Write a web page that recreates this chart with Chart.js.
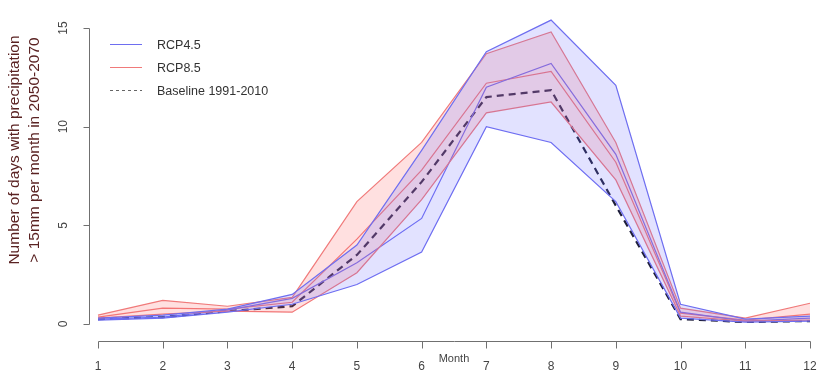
<!DOCTYPE html>
<html><head><meta charset="utf-8">
<script src="https://cdn.jsdelivr.net/npm/chart.js@4/dist/chart.umd.min.js"></script>
<style>html,body{margin:0;padding:0;background:#fff;} #wrap{width:817px;height:374px;}</style>
</head><body><div id="wrap"><canvas id="c" width="817" height="374"></canvas></div>
<script>
const months = [1,2,3,4,5,6,7,8,9,10,11,12];
const yTickValues = [0,5,10,15];
const xTickValues = [1,2,3,4,5,6,7,8,9,10,11,12];
const yTitleLines = ["Number of days with precipitation", "> 15mm per month in 2050-2070"];
const xTitle = "Month";
const legendLabels = ["RCP4.5", "RCP8.5", "Baseline 1991-2010"];

const rcp45Upper = [0.30, 0.45, 0.75, 1.50, 4.00, 8.80, 13.80, 15.40, 12.10, 1.00, 0.25, 0.40];
const rcp45Mid   = [0.25, 0.35, 0.70, 1.30, 3.10, 5.35, 12.00, 13.20, 8.60, 0.60, 0.15, 0.30];
const rcp45Lower = [0.20, 0.30, 0.60, 1.00, 2.00, 3.65, 10.00, 9.20, 6.20, 0.30, 0.10, 0.15];
const rcp85Upper = [0.45, 1.20, 0.90, 1.35, 6.20, 9.20, 13.70, 14.80, 9.20, 0.80, 0.30, 1.05];
const rcp85Mid   = [0.35, 0.80, 0.75, 1.10, 4.30, 7.80, 12.20, 12.80, 8.20, 0.55, 0.20, 0.50];
const rcp85Lower = [0.30, 0.50, 0.65, 0.60, 2.60, 6.30, 10.70, 11.25, 7.30, 0.40, 0.15, 0.20];
const baseline   = [0.25, 0.35, 0.65, 0.90, 3.50, 7.20, 11.50, 11.85, 6.00, 0.25, 0.10, 0.15];

const BLUE = '#6e6ef0', BLUE_FILL = 'rgba(110,110,255,0.2)';
const RED = '#f07a7a', RED_FILL = 'rgba(255,100,100,0.2)';
const BASE = '#1e1e3a';
const FONT = '"Liberation Sans", Arial, sans-serif';

const pts = arr => months.map((m, i) => ({x: m, y: arr[i]}));
const line = (label, arr, color, extra) => Object.assign({
  label, data: pts(arr), borderColor: color, borderWidth: 1.2, pointRadius: 0,
  tension: 0, fill: false
}, extra || {});

const datasets = [
  line('RCP4.5 upper', rcp45Upper, BLUE, {fill: 1, backgroundColor: BLUE_FILL}),
  line('RCP4.5 lower', rcp45Lower, BLUE),
  line('RCP8.5 upper', rcp85Upper, RED, {fill: 3, backgroundColor: RED_FILL}),
  line('RCP8.5 lower', rcp85Lower, RED),
  line(legendLabels[0], rcp45Mid, BLUE),
  line(legendLabels[1], rcp85Mid, RED),
  line(legendLabels[2], baseline, BASE, {borderWidth: 2.2, borderDash: [7, 5]})
];

const rAxes = {
  id: 'rAxes',
  afterDraw(chart) {
    const {ctx, chartArea, scales: {x, y}} = chart;
    ctx.save();
    ctx.strokeStyle = '#707070';
    ctx.lineWidth = 1;
    ctx.setLineDash([]);
    // y axis
    const ax = Math.round(chartArea.left) + 0.5;
    ctx.beginPath();
    ctx.moveTo(ax, Math.round(y.getPixelForValue(yTickValues[0])) + 0.5);
    ctx.lineTo(ax, Math.round(y.getPixelForValue(yTickValues[yTickValues.length - 1])) + 0.5);
    yTickValues.forEach(v => {
      const py = Math.round(y.getPixelForValue(v)) + 0.5;
      ctx.moveTo(ax, py); ctx.lineTo(ax - 6, py);
    });
    // x axis
    const ay = Math.round(chartArea.bottom) + 0.5;
    ctx.moveTo(Math.round(x.getPixelForValue(xTickValues[0])) + 0.5, ay);
    ctx.lineTo(Math.round(x.getPixelForValue(xTickValues[xTickValues.length - 1])) + 0.5, ay);
    xTickValues.forEach(v => {
      const px = Math.round(x.getPixelForValue(v)) + 0.5;
      ctx.moveTo(px, ay); ctx.lineTo(px, ay + 7);
    });
    ctx.stroke();

    // tick labels
    ctx.fillStyle = '#444';
    ctx.font = '12px ' + FONT;
    ctx.textAlign = 'center';
    ctx.textBaseline = 'middle';
    yTickValues.forEach(v => {
      ctx.save();
      ctx.translate(ax - 26, y.getPixelForValue(v));
      ctx.rotate(-Math.PI / 2);
      ctx.fillText(String(v), 0, 0);
      ctx.restore();
    });
    xTickValues.forEach(v => {
      ctx.fillText(String(v), x.getPixelForValue(v), ay + 25);
    });
    // x title
    ctx.font = '11px ' + FONT;
    ctx.fillText(xTitle, x.getPixelForValue(6.5), ay + 17);

    // y title
    ctx.fillStyle = '#5a2222';
    ctx.font = '15.5px ' + FONT;
    ctx.save();
    ctx.translate(15, 150);
    ctx.rotate(-Math.PI / 2);
    ctx.fillText(yTitleLines[0], 0, 0);
    ctx.fillText(yTitleLines[1], 0, 20);
    ctx.restore();

    // legend
    const items = chart.data.datasets.filter(d => legendLabels.includes(d.label));
    items.forEach((d, i) => {
      const ly = 44.5 + i * 23;
      ctx.beginPath();
      ctx.strokeStyle = d.label === legendLabels[2] ? '#666' : d.borderColor;
      ctx.lineWidth = 1;
      ctx.setLineDash(d.borderDash ? [3, 3] : []);
      ctx.moveTo(110, ly); ctx.lineTo(142, ly);
      ctx.stroke();
      ctx.setLineDash([]);
      ctx.fillStyle = '#333';
      ctx.font = '12.5px ' + FONT;
      ctx.textAlign = 'left';
      ctx.fillText(d.label, 157, ly + 1);
    });
    ctx.restore();
  }
};

new Chart(document.getElementById('c'), {
  type: 'line',
  data: {datasets},
  options: {
    responsive: false,
    animation: false,
    devicePixelRatio: 1,
    layout: {padding: {left: 89, top: 14, right: 5, bottom: 33}},
    plugins: {legend: {display: false}, tooltip: {enabled: false}, filler: {propagate: false}},
    scales: {
      x: {type: 'linear', display: false, min: 0.861, max: 12.031},
      y: {type: 'linear', display: false, min: -0.8615, max: 15.709}
    }
  },
  plugins: [rAxes]
});
</script>
</body></html>
